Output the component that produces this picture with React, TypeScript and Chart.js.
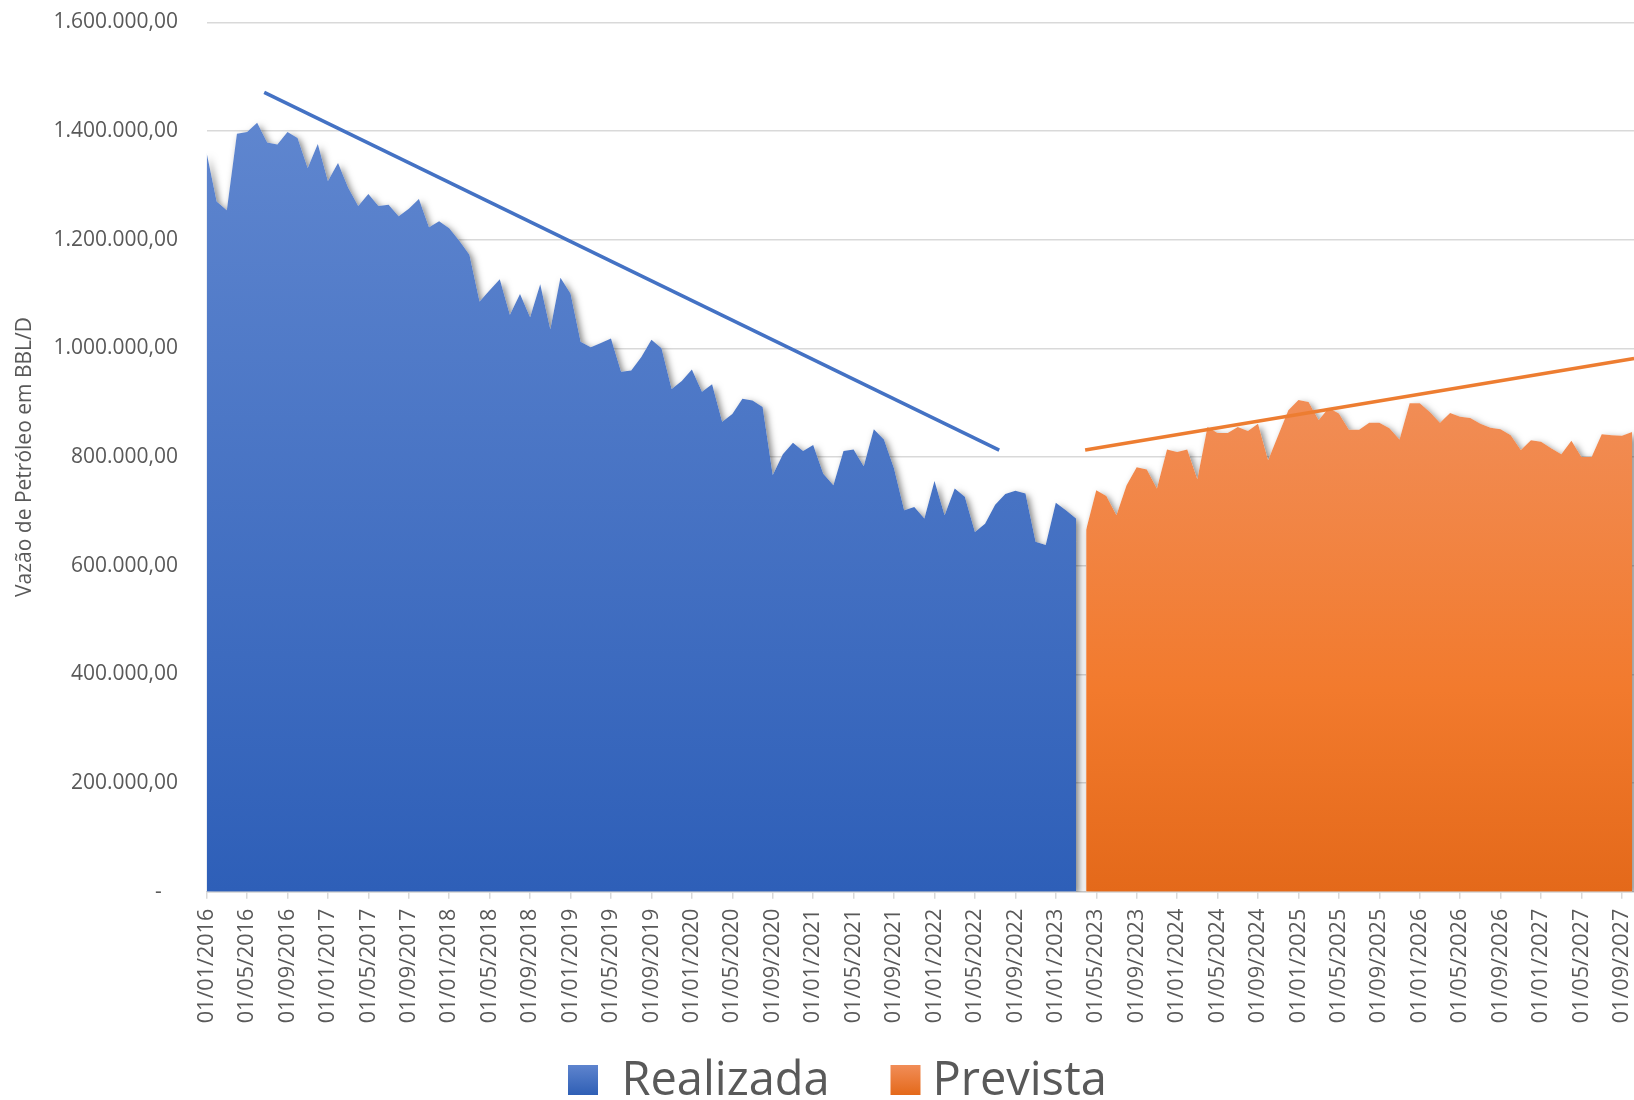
import { useEffect, useRef } from 'react';
import { Chart, registerables } from 'chart.js';

Chart.register(...registerables);

// ---------------- data ----------------
const SERIES_NAMES = ['Realizada', 'Prevista'];

// monthly values, Realizada starts 01/01/2016
const REALIZADA = [
  1360000, 1270000, 1254000, 1395000, 1398000, 1415000, 1379000, 1375000, 1398000, 1387000,
  1332000, 1376000, 1308000, 1341000, 1296000, 1262000, 1284000, 1262000, 1264000, 1243000,
  1257000, 1275000, 1223000, 1234000, 1221000, 1198000, 1172000, 1086000, 1107000, 1127000,
  1062000, 1100000, 1057000, 1118000, 1035000, 1130000, 1101000, 1012000, 1002000, 1010000,
  1018000, 957000, 959000, 984000, 1016000, 1000000, 925000, 940000, 961000, 920000,
  934000, 865000, 879000, 907000, 904000, 892000, 767000, 805000, 826000, 811000,
  822000, 769000, 748000, 811000, 814000, 783000, 851000, 832000, 779000, 702000,
  708000, 687000, 756000, 693000, 742000, 727000, 662000, 677000, 712000, 732000,
  738000, 733000, 644000, 638000, 716000, 702000, 687000,
];

// monthly values, Prevista continues right after Realizada (01/04/2023)
const PREVISTA = [
  666000, 739000, 728000, 693000, 748000, 781000, 777000, 742000, 814000, 809000,
  814000, 759000, 855000, 844000, 844000, 855000, 848000, 861000, 794000, 840000,
  886000, 905000, 901000, 868000, 890000, 880000, 850000, 850000, 863000, 863000,
  853000, 832000, 899000, 899000, 883000, 863000, 881000, 874000, 872000, 861000,
  854000, 851000, 840000, 813000, 831000, 828000, 816000, 805000, 830000, 800000,
  800000, 842000, 840000, 839000, 846000,
];

const TICK_STEP_MONTHS = 4;
const TICK_LABELS = [
  '01/01/2016', '01/05/2016', '01/09/2016',
  '01/01/2017', '01/05/2017', '01/09/2017',
  '01/01/2018', '01/05/2018', '01/09/2018',
  '01/01/2019', '01/05/2019', '01/09/2019',
  '01/01/2020', '01/05/2020', '01/09/2020',
  '01/01/2021', '01/05/2021', '01/09/2021',
  '01/01/2022', '01/05/2022', '01/09/2022',
  '01/01/2023', '01/05/2023', '01/09/2023',
  '01/01/2024', '01/05/2024', '01/09/2024',
  '01/01/2025', '01/05/2025', '01/09/2025',
  '01/01/2026', '01/05/2026', '01/09/2026',
  '01/01/2027', '01/05/2027', '01/09/2027',
];

// hand-drawn trend lines (month index, value)
const TREND_REALIZADA_X = [5.7, 78.4];
const TREND_REALIZADA_Y = [1471000, 812700];
const TREND_PREVISTA_X = [86.9, 141.2];
const TREND_PREVISTA_Y = [812700, 981400];

const Y_MAX = 1600000;
const Y_STEP = 200000;
const X_MAX = 144.95;

const Y_TITLE = 'Vazão de Petróleo em BBL/D';

// ---------------- helpers ----------------
const TEXT = '#595959';
const FONT = 'Open Sans';

function fmt(v: number): string {
  if (v === 0) return '-   ';
  const s = Math.round(v).toString();
  let out = '';
  for (let i = 0; i < s.length; i++) {
    const fromRight = s.length - i;
    out += s[i];
    if (fromRight > 1 && (fromRight - 1) % 3 === 0) out += '.';
  }
  return out + ',00';
}

function areaGradient(stops: [number, string][], topValue: number, fallback: string) {
  return (ctx: any) => {
    const chart = ctx.chart;
    const area = chart.chartArea;
    if (!area) return fallback;
    const top = chart.scales.y.getPixelForValue(topValue);
    const g = chart.ctx.createLinearGradient(0, top, 0, area.bottom);
    stops.forEach(([p, c]) => g.addColorStop(p, c));
    return g;
  };
}

// soft drop shadow under the two area series (uses the library's computed points)
const shadowPlugin = {
  id: 'areaShadow',
  beforeDatasetsDraw(chart: any) {
    const { ctx, chartArea } = chart;
    if (!chartArea) return;
    const base = chart.scales.y.getPixelForValue(0);
    ctx.save();
    ctx.beginPath();
    ctx.rect(chartArea.left, chartArea.top, chartArea.right - chartArea.left, chartArea.bottom - chartArea.top);
    ctx.clip();
    ctx.shadowColor = 'rgba(0,0,0,0.5)';
    ctx.shadowBlur = 7;
    ctx.shadowOffsetX = 3;
    ctx.shadowOffsetY = 3;
    [0, 1].forEach((di) => {
      const pts = chart.getDatasetMeta(di).data;
      if (!pts || !pts.length) return;
      ctx.beginPath();
      ctx.moveTo(pts[0].x, base);
      pts.forEach((p: any) => ctx.lineTo(p.x, p.y));
      ctx.lineTo(pts[pts.length - 1].x, base);
      ctx.closePath();
      ctx.fillStyle = '#ffffff';
      ctx.fill();
    });
    ctx.restore();
  },
};

// legend drawn at the bottom, with gradient swatches like the original
const LEGEND_SWATCH: [string, string][] = [
  ['#5E84CE', '#2F5FB5'],
  ['#F18D58', '#E4691A'],
];
const legendPlugin = {
  id: 'bottomLegend',
  afterDraw(chart: any) {
    const { ctx } = chart;
    const BOX = 30;
    const BOX_TOP = 1065;
    const BASELINE = 1095;
    const BOX_X = [568, 890.5];
    const TEXT_X = [621.4, 932.4];
    ctx.save();
    ctx.font = `47px "${FONT}"`;
    ctx.textBaseline = 'alphabetic';
    ctx.textAlign = 'left';
    SERIES_NAMES.forEach((name, i) => {
      const g = ctx.createLinearGradient(0, BOX_TOP, 0, BOX_TOP + BOX);
      g.addColorStop(0, LEGEND_SWATCH[i][0]);
      g.addColorStop(1, LEGEND_SWATCH[i][1]);
      ctx.fillStyle = g;
      ctx.fillRect(BOX_X[i], BOX_TOP, BOX, BOX);
      ctx.fillStyle = TEXT;
      ctx.fillText(name, TEXT_X[i], BASELINE);
    });
    ctx.restore();
  },
};

export default function App() {
  const ref = useRef<HTMLCanvasElement>(null);

  useEffect(() => {
    const canvas = ref.current;
    if (!canvas) return;

    const realData = REALIZADA.map((v, i) => ({ x: i, y: v }));
    const prevData = PREVISTA.map((v, i) => ({ x: REALIZADA.length + i, y: v }));
    const trendReal = TREND_REALIZADA_X.map((x, i) => ({ x, y: TREND_REALIZADA_Y[i] }));
    const trendPrev = TREND_PREVISTA_X.map((x, i) => ({ x, y: TREND_PREVISTA_Y[i] }));

    const chart = new Chart(canvas, {
      type: 'line',
      data: {
        datasets: [
          {
            label: SERIES_NAMES[0],
            data: realData,
            fill: 'origin',
            borderWidth: 0,
            borderColor: 'rgba(0,0,0,0)',
            pointRadius: 0,
            tension: 0,
            order: 3,
            backgroundColor: areaGradient(
              [[0, '#5F86CF'], [1, '#2E5FB8']],
              1420000,
              '#4471C4'
            ),
          } as any,
          {
            label: SERIES_NAMES[1],
            data: prevData,
            fill: 'origin',
            borderWidth: 0,
            borderColor: 'rgba(0,0,0,0)',
            pointRadius: 0,
            tension: 0,
            order: 2,
            backgroundColor: areaGradient(
              [[0, '#F18D56'], [0.59, '#F27A2D'], [1, '#E4691A']],
              905000,
              '#ED7D31'
            ),
          } as any,
          {
            label: 'trend1',
            data: trendReal,
            fill: false,
            borderColor: '#4472C4',
            borderWidth: 3.5,
            pointRadius: 0,
            order: 1,
          } as any,
          {
            label: 'trend2',
            data: trendPrev,
            fill: false,
            borderColor: '#ED7D31',
            borderWidth: 3.5,
            pointRadius: 0,
            order: 0,
          } as any,
        ],
      },
      options: {
        animation: false,
        responsive: false,
        devicePixelRatio: 1,
        layout: { padding: { top: 22.3, left: 0, right: 0, bottom: 58.3 } },
        plugins: {
          tooltip: { enabled: false },
          legend: { display: false },
        },
        scales: {
          x: {
            type: 'linear',
            min: 0,
            max: X_MAX,
            bounds: 'data',
            afterFit: (s: any) => {
              s.height = 150;
            },
            afterBuildTicks: (s: any) => {
              s.ticks = TICK_LABELS.map((_, k) => ({ value: k * TICK_STEP_MONTHS }));
            },
            ticks: {
              autoSkip: false,
              minRotation: 90,
              maxRotation: 90,
              padding: 10,
              color: TEXT,
              font: { family: FONT, size: 21.6 },
              callback: (_v: any, i: number) => TICK_LABELS[i],
            },
            grid: {
              display: true,
              drawOnChartArea: false,
              drawTicks: true,
              tickLength: 7,
              color: '#D9D9D9',
              lineWidth: 1.5,
            },
            border: { display: true, color: '#D0D0D0', width: 1.5 },
          },
          y: {
            min: 0,
            max: Y_MAX,
            afterFit: (s: any) => {
              s.width = 206.6;
              s.paddingTop = 0;
              s.paddingBottom = 0;
            },
            ticks: {
              stepSize: Y_STEP,
              padding: 28.6,
              color: TEXT,
              font: { family: FONT, size: 21 },
              callback: (v: any) => fmt(Number(v)),
            },
            grid: { color: '#D9D9D9', lineWidth: 1.5, drawTicks: false },
            border: { display: false },
            title: {
              display: true,
              text: Y_TITLE,
              color: TEXT,
              font: { family: FONT, size: 21 },
              padding: { top: 12, bottom: 0 },
            },
          },
        },
      } as any,
      plugins: [shadowPlugin, legendPlugin],
    });

    return () => chart.destroy();
  }, []);

  return (
    <div
      style={{
        position: 'fixed',
        left: 0,
        top: 0,
        width: 1634,
        height: 1100,
        overflow: 'hidden',
        background: '#ffffff',
      }}
    >
      <canvas
        ref={ref}
        width={1672}
        height={1100}
        style={{ display: 'block', width: 1672, height: 1100 }}
      />
    </div>
  );
}
